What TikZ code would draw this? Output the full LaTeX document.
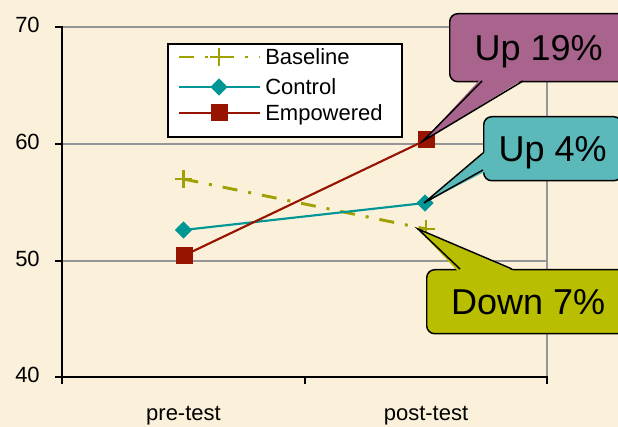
\documentclass[tikz,border=0pt]{standalone}
\usepackage{fontspec}
\setmainfont{Liberation Sans}
\usetikzlibrary{shapes.geometric,shapes.misc}
\definecolor{bgcol}{RGB}{251,241,219}
\definecolor{olivecol}{RGB}{160,160,0}
\definecolor{ctrlcol}{RGB}{0,150,150}
\definecolor{empcol}{RGB}{150,20,0}
\definecolor{magfill}{RGB}{168,100,140}
\definecolor{tealfill}{RGB}{91,185,186}
\definecolor{olivefill}{RGB}{185,190,0}
\definecolor{gridcol}{RGB}{150,150,150}
\begin{document}
\begin{tikzpicture}[x=0.75pt,y=-0.75pt,
  gridln/.style={gridcol, line width=1.5pt},
  axisln/.style={black, line width=2.2pt},
  tickln/.style={black, line width=1.8pt},
  lbl/.style={font=\fontsize{16.5}{18}\selectfont, inner sep=0pt},
  baseln/.style={olivecol, line width=2.2pt, dash pattern=on 11.25pt off 8.25pt on 2.25pt off 8.25pt},
  ctrlln/.style={ctrlcol, line width=1.6pt},
  empln/.style={empcol, line width=1.6pt},
  sqmark/.style={rectangle, fill=empcol, minimum size=12.75pt, inner sep=0pt},
  dmmark/.style={diamond, fill=ctrlcol, minimum width=13pt, minimum height=13pt, inner sep=0pt},
  plmark/.style={cross out, draw=olivecol, line width=1.6pt, minimum size=7.5pt, inner sep=0pt, rotate=45},
  cbox/.style={rectangle, draw=black, line width=1.1pt, rounded corners=6pt, anchor=north west,
    font=\fontsize{27}{30}\selectfont, text depth=0pt, inner sep=0pt},
  cline/.style={black, line width=1.1pt, line join=miter},
]
% background and bounding box
\fill[bgcol] (0,0) rectangle (618,427);
\useasboundingbox (0,0) rectangle (618,427);

% grid
\draw[gridln] (62,27) -- (547,27);
\draw[gridln] (62,144) -- (547,144);
\draw[gridln] (62,261) -- (547,261);
\draw[gridln] (547,27) -- (547,377);

% axes
\draw[axisln] (62,26) -- (62,378);
\draw[axisln] (61,377) -- (548,377);
\foreach \yy in {27,144,261,377} \draw[tickln] (55,\yy) -- (62,\yy);
\foreach \xx in {62,305,547} \draw[tickln] (\xx,377) -- (\xx,384);

% axis labels
\node[lbl, anchor=east] (l70) at (40,25) {70};
\node[lbl, anchor=east] (l60) at (40,142) {60};
\node[lbl, anchor=east] (l50) at (40,259) {50};
\node[lbl, anchor=east] (l40) at (40,375) {40};
\node[lbl, anchor=base] (pre) at (183.5,421) {pre-test};
\node[lbl, anchor=base] (post) at (426,421) {post-test};

% legend
\node[draw=black, line width=1.5pt, fill=white, minimum width=175.5pt, minimum height=69.75pt,
  inner sep=0pt, anchor=north west] (leg) at (167,43) {};
\draw[baseln] (179,57) -- (260,57);
\node[plmark] (lgb) at (219,57) {};
\draw[ctrlln] (179,87) -- (260,87);
\node[dmmark] (lgc) at (219,87) {};
\draw[empln] (179,113) -- (260,113);
\node[sqmark] (lge) at (219,113) {};
\node[lbl, anchor=base west] (tb) at (265,65) {Baseline};
\node[lbl, anchor=base west] (tc) at (265,95) {Control};
\node[lbl, anchor=base west] (te) at (265,121) {Empowered};

% data markers
\coordinate (b1) at (183.5,179);
\coordinate (b2) at (426,229);
\coordinate (c1) at (183.5,230);
\coordinate (c2) at (425,203);
\coordinate (e1) at (184,255.5);
\coordinate (e2) at (426,140);

% data lines
\draw[baseln] (b1) -- (b2);
\draw[ctrlln] (c1) -- (c2);
\draw[empln] (e1) -- (e2);
\node[plmark] (mb1) at (b1) {};
\node[plmark] (mb2) at (b2) {};
\node[dmmark] (mc1) at (c1) {};
\node[dmmark] (mc2) at (c2) {};
\node[sqmark] (me1) at (e1) {};
\node[sqmark] (me2) at (e2) {};

% callouts
\coordinate (tip19) at (423,141);
\coordinate (tip4) at (424,203);
\coordinate (tip7) at (418,229);

\node[cbox, fill=magfill, minimum width=133.5pt, minimum height=51pt] (up19) at (449,13) {Up 19\%};
\fill[magfill] (481,78.5) -- (524.5,78.5) -- (tip19) -- cycle;
\draw[cline] (482,81) -- (tip19) -- (523,81);

\node[cbox, fill=tealfill, minimum width=103.5pt, minimum height=48pt] (up4) at (483,116) {Up 4\%};
\fill[tealfill] (485.5,152) -- (485.5,171.5) -- (tip4) -- cycle;
\draw[cline] (483,153) -- (tip4) -- (483,170);

\node[cbox, fill=olivefill, minimum width=152.25pt, minimum height=48pt] (down7) at (426,269) {Down 7\%};
\fill[olivefill] (458,271.5) -- (515,271.5) -- (tip7) -- cycle;
\draw[cline] (460,269) -- (tip7) -- (512,269);
\end{tikzpicture}
\end{document}
